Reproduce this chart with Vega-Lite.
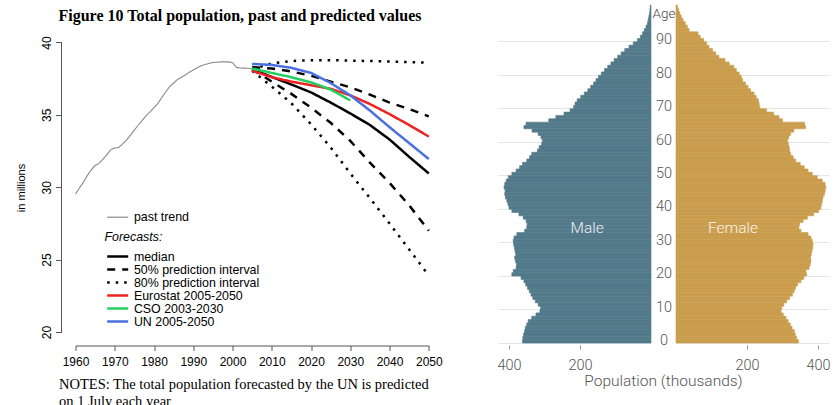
{
  "$schema": "https://vega.github.io/schema/vega-lite/v6.json",
  "padding": {"left": 14.5, "top": 4, "right": 0, "bottom": 0},
  "spacing": 53.5,
  "align": "none",
  "config": {
    "view": {"stroke": null},
    "font": "Liberation Sans"
  },
  "datasets": {
    "past": [
      {"year": 1960, "pop": 29.53, "kind": "past trend"},
      {"year": 1961, "pop": 29.95, "kind": "past trend"},
      {"year": 1962, "pop": 30.35, "kind": "past trend"},
      {"year": 1963, "pop": 30.8, "kind": "past trend"},
      {"year": 1964, "pop": 31.2, "kind": "past trend"},
      {"year": 1965, "pop": 31.5, "kind": "past trend"},
      {"year": 1966, "pop": 31.65, "kind": "past trend"},
      {"year": 1967, "pop": 31.95, "kind": "past trend"},
      {"year": 1968, "pop": 32.25, "kind": "past trend"},
      {"year": 1969, "pop": 32.6, "kind": "past trend"},
      {"year": 1970, "pop": 32.72, "kind": "past trend"},
      {"year": 1971, "pop": 32.75, "kind": "past trend"},
      {"year": 1972, "pop": 33.0, "kind": "past trend"},
      {"year": 1973, "pop": 33.25, "kind": "past trend"},
      {"year": 1974, "pop": 33.6, "kind": "past trend"},
      {"year": 1975, "pop": 33.95, "kind": "past trend"},
      {"year": 1976, "pop": 34.3, "kind": "past trend"},
      {"year": 1977, "pop": 34.62, "kind": "past trend"},
      {"year": 1978, "pop": 34.95, "kind": "past trend"},
      {"year": 1979, "pop": 35.2, "kind": "past trend"},
      {"year": 1980, "pop": 35.5, "kind": "past trend"},
      {"year": 1981, "pop": 35.8, "kind": "past trend"},
      {"year": 1982, "pop": 36.2, "kind": "past trend"},
      {"year": 1983, "pop": 36.6, "kind": "past trend"},
      {"year": 1984, "pop": 36.95, "kind": "past trend"},
      {"year": 1985, "pop": 37.2, "kind": "past trend"},
      {"year": 1986, "pop": 37.45, "kind": "past trend"},
      {"year": 1987, "pop": 37.6, "kind": "past trend"},
      {"year": 1988, "pop": 37.75, "kind": "past trend"},
      {"year": 1989, "pop": 37.95, "kind": "past trend"},
      {"year": 1990, "pop": 38.1, "kind": "past trend"},
      {"year": 1991, "pop": 38.25, "kind": "past trend"},
      {"year": 1992, "pop": 38.4, "kind": "past trend"},
      {"year": 1993, "pop": 38.48, "kind": "past trend"},
      {"year": 1994, "pop": 38.55, "kind": "past trend"},
      {"year": 1995, "pop": 38.62, "kind": "past trend"},
      {"year": 1996, "pop": 38.64, "kind": "past trend"},
      {"year": 1997, "pop": 38.66, "kind": "past trend"},
      {"year": 1998, "pop": 38.66, "kind": "past trend"},
      {"year": 1999, "pop": 38.66, "kind": "past trend"},
      {"year": 2000, "pop": 38.6, "kind": "past trend"},
      {"year": 2001, "pop": 38.28, "kind": "past trend"},
      {"year": 2002, "pop": 38.24, "kind": "past trend"},
      {"year": 2003, "pop": 38.23, "kind": "past trend"},
      {"year": 2004, "pop": 38.22, "kind": "past trend"},
      {"year": 2005, "pop": 38.17, "kind": "past trend"}
    ],
    "forecast": [
      {"series": "median", "band": "mid", "year": 2005, "pop": 38.15},
      {"series": "median", "band": "mid", "year": 2010, "pop": 37.62},
      {"series": "median", "band": "mid", "year": 2015, "pop": 37.1},
      {"series": "median", "band": "mid", "year": 2020, "pop": 36.55},
      {"series": "median", "band": "mid", "year": 2025, "pop": 35.85},
      {"series": "median", "band": "mid", "year": 2030, "pop": 35.1},
      {"series": "median", "band": "mid", "year": 2035, "pop": 34.3},
      {"series": "median", "band": "mid", "year": 2040, "pop": 33.3},
      {"series": "median", "band": "mid", "year": 2045, "pop": 32.1},
      {"series": "median", "band": "mid", "year": 2050, "pop": 30.95},
      {"series": "50% prediction interval", "band": "upper", "year": 2005, "pop": 38.3},
      {"series": "50% prediction interval", "band": "upper", "year": 2010, "pop": 38.2},
      {"series": "50% prediction interval", "band": "upper", "year": 2015, "pop": 38.0},
      {"series": "50% prediction interval", "band": "upper", "year": 2020, "pop": 37.7},
      {"series": "50% prediction interval", "band": "upper", "year": 2025, "pop": 37.3},
      {"series": "50% prediction interval", "band": "upper", "year": 2030, "pop": 36.9},
      {"series": "50% prediction interval", "band": "upper", "year": 2035, "pop": 36.4},
      {"series": "50% prediction interval", "band": "upper", "year": 2040, "pop": 35.85},
      {"series": "50% prediction interval", "band": "upper", "year": 2045, "pop": 35.4},
      {"series": "50% prediction interval", "band": "upper", "year": 2050, "pop": 34.9},
      {"series": "50% prediction interval", "band": "lower", "year": 2005, "pop": 38.15},
      {"series": "50% prediction interval", "band": "lower", "year": 2010, "pop": 37.3},
      {"series": "50% prediction interval", "band": "lower", "year": 2015, "pop": 36.45},
      {"series": "50% prediction interval", "band": "lower", "year": 2020, "pop": 35.5},
      {"series": "50% prediction interval", "band": "lower", "year": 2025, "pop": 34.45},
      {"series": "50% prediction interval", "band": "lower", "year": 2030, "pop": 33.2},
      {"series": "50% prediction interval", "band": "lower", "year": 2035, "pop": 31.7},
      {"series": "50% prediction interval", "band": "lower", "year": 2040, "pop": 30.3},
      {"series": "50% prediction interval", "band": "lower", "year": 2045, "pop": 28.75},
      {"series": "50% prediction interval", "band": "lower", "year": 2050, "pop": 27.0},
      {"series": "80% prediction interval", "band": "upper", "year": 2005, "pop": 38.15},
      {"series": "80% prediction interval", "band": "upper", "year": 2010, "pop": 38.55},
      {"series": "80% prediction interval", "band": "upper", "year": 2015, "pop": 38.72},
      {"series": "80% prediction interval", "band": "upper", "year": 2020, "pop": 38.78},
      {"series": "80% prediction interval", "band": "upper", "year": 2025, "pop": 38.78},
      {"series": "80% prediction interval", "band": "upper", "year": 2030, "pop": 38.75},
      {"series": "80% prediction interval", "band": "upper", "year": 2035, "pop": 38.72},
      {"series": "80% prediction interval", "band": "upper", "year": 2040, "pop": 38.68},
      {"series": "80% prediction interval", "band": "upper", "year": 2045, "pop": 38.64},
      {"series": "80% prediction interval", "band": "upper", "year": 2050, "pop": 38.6},
      {"series": "80% prediction interval", "band": "lower", "year": 2005, "pop": 38.05},
      {"series": "80% prediction interval", "band": "lower", "year": 2010, "pop": 36.95},
      {"series": "80% prediction interval", "band": "lower", "year": 2015, "pop": 35.8},
      {"series": "80% prediction interval", "band": "lower", "year": 2020, "pop": 34.35},
      {"series": "80% prediction interval", "band": "lower", "year": 2025, "pop": 32.75},
      {"series": "80% prediction interval", "band": "lower", "year": 2030, "pop": 30.95},
      {"series": "80% prediction interval", "band": "lower", "year": 2035, "pop": 29.25},
      {"series": "80% prediction interval", "band": "lower", "year": 2040, "pop": 27.5},
      {"series": "80% prediction interval", "band": "lower", "year": 2045, "pop": 25.7},
      {"series": "80% prediction interval", "band": "lower", "year": 2050, "pop": 23.9},
      {"series": "Eurostat 2005-2050", "band": "mid", "year": 2005, "pop": 38.05},
      {"series": "Eurostat 2005-2050", "band": "mid", "year": 2010, "pop": 37.6},
      {"series": "Eurostat 2005-2050", "band": "mid", "year": 2015, "pop": 37.3},
      {"series": "Eurostat 2005-2050", "band": "mid", "year": 2020, "pop": 37.05},
      {"series": "Eurostat 2005-2050", "band": "mid", "year": 2025, "pop": 36.8},
      {"series": "Eurostat 2005-2050", "band": "mid", "year": 2030, "pop": 36.35},
      {"series": "Eurostat 2005-2050", "band": "mid", "year": 2035, "pop": 35.75},
      {"series": "Eurostat 2005-2050", "band": "mid", "year": 2040, "pop": 35.05},
      {"series": "Eurostat 2005-2050", "band": "mid", "year": 2045, "pop": 34.3},
      {"series": "Eurostat 2005-2050", "band": "mid", "year": 2050, "pop": 33.5},
      {"series": "CSO 2003-2030", "band": "mid", "year": 2005, "pop": 38.2},
      {"series": "CSO 2003-2030", "band": "mid", "year": 2010, "pop": 37.9},
      {"series": "CSO 2003-2030", "band": "mid", "year": 2015, "pop": 37.6},
      {"series": "CSO 2003-2030", "band": "mid", "year": 2020, "pop": 37.25},
      {"series": "CSO 2003-2030", "band": "mid", "year": 2025, "pop": 36.75},
      {"series": "CSO 2003-2030", "band": "mid", "year": 2030, "pop": 36.0},
      {"series": "UN 2005-2050", "band": "mid", "year": 2005, "pop": 38.52},
      {"series": "UN 2005-2050", "band": "mid", "year": 2010, "pop": 38.45},
      {"series": "UN 2005-2050", "band": "mid", "year": 2015, "pop": 38.25},
      {"series": "UN 2005-2050", "band": "mid", "year": 2020, "pop": 37.9},
      {"series": "UN 2005-2050", "band": "mid", "year": 2025, "pop": 37.2},
      {"series": "UN 2005-2050", "band": "mid", "year": 2030, "pop": 36.35},
      {"series": "UN 2005-2050", "band": "mid", "year": 2035, "pop": 35.3},
      {"series": "UN 2005-2050", "band": "mid", "year": 2040, "pop": 34.15},
      {"series": "UN 2005-2050", "band": "mid", "year": 2045, "pop": 33.05},
      {"series": "UN 2005-2050", "band": "mid", "year": 2050, "pop": 31.95}
    ],
    "pyramid": [
      {"age":0,"sex":"Male","pop":362},{"age":1,"sex":"Male","pop":361},{"age":2,"sex":"Male","pop":359},{"age":3,"sex":"Male","pop":356},{"age":4,"sex":"Male","pop":354},
      {"age":5,"sex":"Male","pop":350},{"age":6,"sex":"Male","pop":346},{"age":7,"sex":"Male","pop":336},{"age":8,"sex":"Male","pop":324},{"age":9,"sex":"Male","pop":313},
      {"age":10,"sex":"Male","pop":311},{"age":11,"sex":"Male","pop":318},{"age":12,"sex":"Male","pop":326},{"age":13,"sex":"Male","pop":333},{"age":14,"sex":"Male","pop":338},
      {"age":15,"sex":"Male","pop":343},{"age":16,"sex":"Male","pop":348},{"age":17,"sex":"Male","pop":353},{"age":18,"sex":"Male","pop":358},{"age":19,"sex":"Male","pop":366},
      {"age":20,"sex":"Male","pop":392},{"age":21,"sex":"Male","pop":388},{"age":22,"sex":"Male","pop":380},{"age":23,"sex":"Male","pop":379},{"age":24,"sex":"Male","pop":382},
      {"age":25,"sex":"Male","pop":384},{"age":26,"sex":"Male","pop":381},{"age":27,"sex":"Male","pop":383},{"age":28,"sex":"Male","pop":385},{"age":29,"sex":"Male","pop":387},
      {"age":30,"sex":"Male","pop":388},{"age":31,"sex":"Male","pop":386},{"age":32,"sex":"Male","pop":378},{"age":33,"sex":"Male","pop":356},{"age":34,"sex":"Male","pop":350},
      {"age":35,"sex":"Male","pop":349},{"age":36,"sex":"Male","pop":352},{"age":37,"sex":"Male","pop":360},{"age":38,"sex":"Male","pop":372},{"age":39,"sex":"Male","pop":392},
      {"age":40,"sex":"Male","pop":400},{"age":41,"sex":"Male","pop":403},{"age":42,"sex":"Male","pop":406},{"age":43,"sex":"Male","pop":410},{"age":44,"sex":"Male","pop":412},
      {"age":45,"sex":"Male","pop":411},{"age":46,"sex":"Male","pop":414},{"age":47,"sex":"Male","pop":412},{"age":48,"sex":"Male","pop":408},{"age":49,"sex":"Male","pop":402},
      {"age":50,"sex":"Male","pop":392},{"age":51,"sex":"Male","pop":380},{"age":52,"sex":"Male","pop":370},{"age":53,"sex":"Male","pop":362},{"age":54,"sex":"Male","pop":350},
      {"age":55,"sex":"Male","pop":342},{"age":56,"sex":"Male","pop":336},{"age":57,"sex":"Male","pop":320},{"age":58,"sex":"Male","pop":315},{"age":59,"sex":"Male","pop":308},
      {"age":60,"sex":"Male","pop":306},{"age":61,"sex":"Male","pop":310},{"age":62,"sex":"Male","pop":318},{"age":63,"sex":"Male","pop":335},{"age":64,"sex":"Male","pop":358},
      {"age":65,"sex":"Male","pop":352},{"age":66,"sex":"Male","pop":288},{"age":67,"sex":"Male","pop":268},{"age":68,"sex":"Male","pop":245},{"age":69,"sex":"Male","pop":228},
      {"age":70,"sex":"Male","pop":218},{"age":71,"sex":"Male","pop":214},{"age":72,"sex":"Male","pop":208},{"age":73,"sex":"Male","pop":198},{"age":74,"sex":"Male","pop":188},
      {"age":75,"sex":"Male","pop":178},{"age":76,"sex":"Male","pop":170},{"age":77,"sex":"Male","pop":162},{"age":78,"sex":"Male","pop":155},{"age":79,"sex":"Male","pop":148},
      {"age":80,"sex":"Male","pop":140},{"age":81,"sex":"Male","pop":131},{"age":82,"sex":"Male","pop":122},{"age":83,"sex":"Male","pop":113},{"age":84,"sex":"Male","pop":104},
      {"age":85,"sex":"Male","pop":94},{"age":86,"sex":"Male","pop":84},{"age":87,"sex":"Male","pop":74},{"age":88,"sex":"Male","pop":62},{"age":89,"sex":"Male","pop":50},
      {"age":90,"sex":"Male","pop":38},{"age":91,"sex":"Male","pop":30},{"age":92,"sex":"Male","pop":24},{"age":93,"sex":"Male","pop":19},{"age":94,"sex":"Male","pop":14},
      {"age":95,"sex":"Male","pop":10},{"age":96,"sex":"Male","pop":8},{"age":97,"sex":"Male","pop":6},{"age":98,"sex":"Male","pop":4},{"age":99,"sex":"Male","pop":3},
      {"age":100,"sex":"Male","pop":2},
      {"age":0,"sex":"Female","pop":345},{"age":1,"sex":"Female","pop":340},{"age":2,"sex":"Female","pop":336},{"age":3,"sex":"Female","pop":333},{"age":4,"sex":"Female","pop":327},
      {"age":5,"sex":"Female","pop":322},{"age":6,"sex":"Female","pop":316},{"age":7,"sex":"Female","pop":310},{"age":8,"sex":"Female","pop":302},{"age":9,"sex":"Female","pop":296},
      {"age":10,"sex":"Female","pop":298},{"age":11,"sex":"Female","pop":304},{"age":12,"sex":"Female","pop":312},{"age":13,"sex":"Female","pop":320},{"age":14,"sex":"Female","pop":328},
      {"age":15,"sex":"Female","pop":333},{"age":16,"sex":"Female","pop":337},{"age":17,"sex":"Female","pop":342},{"age":18,"sex":"Female","pop":352},{"age":19,"sex":"Female","pop":360},
      {"age":20,"sex":"Female","pop":368},{"age":21,"sex":"Female","pop":366},{"age":22,"sex":"Female","pop":375},{"age":23,"sex":"Female","pop":378},{"age":24,"sex":"Female","pop":380},
      {"age":25,"sex":"Female","pop":379},{"age":26,"sex":"Female","pop":381},{"age":27,"sex":"Female","pop":383},{"age":28,"sex":"Female","pop":385},{"age":29,"sex":"Female","pop":386},
      {"age":30,"sex":"Female","pop":384},{"age":31,"sex":"Female","pop":380},{"age":32,"sex":"Female","pop":372},{"age":33,"sex":"Female","pop":352},{"age":34,"sex":"Female","pop":346},
      {"age":35,"sex":"Female","pop":348},{"age":36,"sex":"Female","pop":358},{"age":37,"sex":"Female","pop":370},{"age":38,"sex":"Female","pop":388},{"age":39,"sex":"Female","pop":402},
      {"age":40,"sex":"Female","pop":408},{"age":41,"sex":"Female","pop":410},{"age":42,"sex":"Female","pop":412},{"age":43,"sex":"Female","pop":414},{"age":44,"sex":"Female","pop":418},
      {"age":45,"sex":"Female","pop":420},{"age":46,"sex":"Female","pop":422},{"age":47,"sex":"Female","pop":420},{"age":48,"sex":"Female","pop":412},{"age":49,"sex":"Female","pop":398},
      {"age":50,"sex":"Female","pop":384},{"age":51,"sex":"Female","pop":372},{"age":52,"sex":"Female","pop":361},{"age":53,"sex":"Female","pop":350},{"age":54,"sex":"Female","pop":337},
      {"age":55,"sex":"Female","pop":330},{"age":56,"sex":"Female","pop":323},{"age":57,"sex":"Female","pop":320},{"age":58,"sex":"Female","pop":319},{"age":59,"sex":"Female","pop":316},
      {"age":60,"sex":"Female","pop":314},{"age":61,"sex":"Female","pop":318},{"age":62,"sex":"Female","pop":323},{"age":63,"sex":"Female","pop":332},{"age":64,"sex":"Female","pop":365},
      {"age":65,"sex":"Female","pop":362},{"age":66,"sex":"Female","pop":300},{"age":67,"sex":"Female","pop":290},{"age":68,"sex":"Female","pop":275},{"age":69,"sex":"Female","pop":255},
      {"age":70,"sex":"Female","pop":236},{"age":71,"sex":"Female","pop":234},{"age":72,"sex":"Female","pop":232},{"age":73,"sex":"Female","pop":226},{"age":74,"sex":"Female","pop":220},
      {"age":75,"sex":"Female","pop":210},{"age":76,"sex":"Female","pop":203},{"age":77,"sex":"Female","pop":196},{"age":78,"sex":"Female","pop":188},{"age":79,"sex":"Female","pop":184},
      {"age":80,"sex":"Female","pop":178},{"age":81,"sex":"Female","pop":170},{"age":82,"sex":"Female","pop":163},{"age":83,"sex":"Female","pop":150},{"age":84,"sex":"Female","pop":138},
      {"age":85,"sex":"Female","pop":121},{"age":86,"sex":"Female","pop":112},{"age":87,"sex":"Female","pop":103},{"age":88,"sex":"Female","pop":93},{"age":89,"sex":"Female","pop":86},
      {"age":90,"sex":"Female","pop":78},{"age":91,"sex":"Female","pop":68},{"age":92,"sex":"Female","pop":62},{"age":93,"sex":"Female","pop":37},{"age":94,"sex":"Female","pop":32},
      {"age":95,"sex":"Female","pop":26},{"age":96,"sex":"Female","pop":20},{"age":97,"sex":"Female","pop":15},{"age":98,"sex":"Female","pop":11},{"age":99,"sex":"Female","pop":7},
      {"age":100,"sex":"Female","pop":4}
    ]
  },
  "hconcat": [
    {
      "width": 353.3,
      "height": 327,
      "title": {
        "text": "Figure 10 Total population, past and predicted values",
        "anchor": "start",
        "frame": "group",
        "dx": -17,
        "dy": 18.5,
        "offset": 0,
        "font": "Liberation Serif",
        "fontSize": 16,
        "fontWeight": "bold",
        "color": "#000000"
      },
      "layer": [
        {
          "data": {"name": "past"},
          "mark": {"type": "line", "color": "#8a8a8a", "strokeWidth": 1.1},
          "encoding": {
            "x": {
              "field": "year",
              "type": "quantitative",
              "scale": {"domain": [1960, 2050], "nice": false, "zero": false},
              "axis": {
                "values": [1960, 1970, 1980, 1990, 2000, 2010, 2020, 2030, 2040, 2050],
                "tickCount": 10,
                "format": "d",
                "offset": 13.5,
                "domain": true,
                "domainColor": "#555555",
                "grid": false,
                "tickSize": 5,
                "tickColor": "#555555",
                "labelFont": "Liberation Sans",
                "labelFontSize": 12,
                "labelColor": "#000000",
                "labelPadding": 6,
                "labelFlush": false,
                "labelOverlap": false,
                "title": ["NOTES: The total population forecasted by the UN is predicted", "on 1 July each year"],
                "titleFont": "Liberation Serif",
                "titleFontSize": 14.5,
                "titleFontWeight": "normal",
                "titleColor": "#000000",
                "titleAnchor": "start",
                "titleAlign": "left",
                "titleBaseline": "alphabetic",
                "titleLineHeight": 16.5,
                "titleX": -17,
                "titleY": 43
              }
            },
            "y": {
              "field": "pop",
              "type": "quantitative",
              "scale": {"domain": [20, 42.59], "nice": false, "zero": false},
              "axis": {
                "values": [20, 25, 30, 35, 40],
                "offset": 14,
                "domain": false,
                "grid": false,
                "tickSize": 6,
                "tickColor": "#555555",
                "labelAngle": -90,
                "labelAlign": "center",
                "labelBaseline": "alphabetic",
                "labelPadding": 5.5,
                "labelFont": "Liberation Sans",
                "labelFontSize": 12,
                "labelColor": "#000000",
                "labelOverlap": false,
                "title": "in millions",
                "titleFont": "Liberation Sans",
                "titleFontSize": 11,
                "titleFontWeight": "normal",
                "titleColor": "#000000",
                "titleAngle": -90,
                "titleAlign": "center",
                "titleBaseline": "middle",
                "titleX": -40.5,
                "titleY": 182.5
              }
            },
            "opacity": {
              "field": "kind",
              "type": "ordinal",
              "scale": {"range": [1]},
              "legend": {
                "orient": "none",
                "legendX": 29,
                "legendY": 206,
                "title": null,
                "symbolType": "M-1,0H5",
                "symbolSize": 49,
                "symbolStrokeColor": "#8a8a8a",
                "symbolStrokeWidth": 1.2,
                "labelFont": "Liberation Sans",
                "labelFontSize": 12.4,
                "labelColor": "#000000",
                "labelOffset": 17
              }
            }
          }
        },
        {
          "data": {"name": "forecast"},
          "mark": {"type": "line", "strokeCap": "butt"},
          "encoding": {
            "x": {"field": "year", "type": "quantitative"},
            "y": {"field": "pop", "type": "quantitative"},
            "detail": {"field": "band"},
            "color": {
              "field": "series",
              "type": "ordinal",
              "scale": {
                "domain": ["median", "50% prediction interval", "80% prediction interval", "Eurostat 2005-2050", "CSO 2003-2030", "UN 2005-2050"],
                "range": ["#000000", "#000000", "#000000", "#ee2222", "#22d060", "#4a6fe0"]
              },
              "legend": {
                "orient": "none",
                "legendX": 29,
                "legendY": 226,
                "title": "Forecasts:",
                "titleFont": "Liberation Sans",
                "titleFontSize": 12.4,
                "titleFontStyle": "italic",
                "titleFontWeight": "normal",
                "titleColor": "#000000",
                "titlePadding": 7,
                "symbolType": "M-1,0H5",
                "symbolSize": 49,
                "rowPadding": -0.5,
                "labelFont": "Liberation Sans",
                "labelFontSize": 12.4,
                "labelColor": "#000000",
                "labelOffset": 17
              }
            },
            "strokeDash": {
              "field": "series",
              "type": "ordinal",
              "scale": {
                "domain": ["median", "50% prediction interval", "80% prediction interval", "Eurostat 2005-2050", "CSO 2003-2030", "UN 2005-2050"],
                "range": [[1, 0], [8, 7], [2.5, 6], [1, 0], [1, 0], [1, 0]]
              }
            },
            "strokeWidth": {
              "field": "series",
              "type": "ordinal",
              "scale": {
                "domain": ["median", "50% prediction interval", "80% prediction interval", "Eurostat 2005-2050", "CSO 2003-2030", "UN 2005-2050"],
                "range": [2.5, 2.5, 2.5, 1.5, 1.5, 1.5]
              }
            }
          }
        },
        {
          "data": {"values": [{"from": 20, "to": 40}]},
          "mark": {"type": "rule", "color": "#555555", "strokeWidth": 1},
          "encoding": {
            "x": {"datum": 1956.434},
            "y": {"field": "from", "type": "quantitative"},
            "y2": {"field": "to"}
          }
        }
      ]
    },
    {
      "title": {
        "text": "Population (thousands)",
        "orient": "bottom",
        "anchor": "middle",
        "offset": 2,
        "font": "Roboto",
        "fontSize": 15.5,
        "fontWeight": 300,
        "color": "#555555"
      },
      "bounds": "flush",
      "spacing": 25,
      "hconcat": [
        {
          "width": 153,
          "height": 338,
          "layer": [
            {
              "data": {"name": "pyramid"},
              "transform": [{"filter": "datum.sex === 'Male'"}],
              "mark": {"type": "bar", "color": "#537a8a", "stroke": "#537a8a", "strokeWidth": 0.6},
              "encoding": {
                "y": {
                  "field": "age",
                  "type": "ordinal",
                  "scale": {
                    "domain": [100,99,98,97,96,95,94,93,92,91,90,89,88,87,86,85,84,83,82,81,80,79,78,77,76,75,74,73,72,71,70,69,68,67,66,65,64,63,62,61,60,59,58,57,56,55,54,53,52,51,50,49,48,47,46,45,44,43,42,41,40,39,38,37,36,35,34,33,32,31,30,29,28,27,26,25,24,23,22,21,20,19,18,17,16,15,14,13,12,11,10,9,8,7,6,5,4,3,2,1,0],
                    "paddingInner": 0,
                    "paddingOuter": 0
                  },
                  "axis": {
                    "values": [0, 10, 20, 30, 40, 50, 60, 70, 80, 90],
                    "bandPosition": 1,
                    "grid": true,
                    "gridColor": "#e4e4e4",
                    "gridWidth": 1.2,
                    "labels": false,
                    "ticks": false,
                    "domain": false,
                    "title": null
                  }
                },
                "x": {
                  "field": "pop",
                  "type": "quantitative",
                  "scale": {"domain": [0, 431], "reverse": true, "nice": false, "zero": true},
                  "axis": {
                    "values": [200, 400],
                    "grid": false,
                    "domain": false,
                    "offset": 2,
                    "tickSize": 4,
                    "tickColor": "#999999",
                    "labelFont": "Roboto",
                    "labelFontWeight": 300,
                    "labelFontSize": 14.5,
                    "labelColor": "#555555",
                    "labelPadding": 9,
                    "title": null
                  }
                }
              }
            },
            {
              "data": {"name": "pyramid"},
              "transform": [{"filter": "datum.sex === 'Male' && datum.age === 34"}],
              "mark": {"type": "text", "font": "Roboto", "fontWeight": 300, "fontSize": 15.5, "color": "#eef1f3"},
              "encoding": {
                "text": {"field": "sex"},
                "x": {"datum": 180},
                "y": {"field": "age", "type": "ordinal"}
              }
            }
          ]
        },
        {
          "width": 153,
          "height": 338,
          "layer": [
            {
              "data": {"name": "pyramid"},
              "transform": [{"filter": "datum.sex === 'Female'"}],
              "mark": {"type": "bar", "color": "#c99d4d", "stroke": "#c99d4d", "strokeWidth": 0.6},
              "encoding": {
                "y": {
                  "field": "age",
                  "type": "ordinal",
                  "scale": {
                    "domain": [100,99,98,97,96,95,94,93,92,91,90,89,88,87,86,85,84,83,82,81,80,79,78,77,76,75,74,73,72,71,70,69,68,67,66,65,64,63,62,61,60,59,58,57,56,55,54,53,52,51,50,49,48,47,46,45,44,43,42,41,40,39,38,37,36,35,34,33,32,31,30,29,28,27,26,25,24,23,22,21,20,19,18,17,16,15,14,13,12,11,10,9,8,7,6,5,4,3,2,1,0],
                    "paddingInner": 0,
                    "paddingOuter": 0
                  },
                  "axis": {
                    "orient": "left",
                    "values": [0, 10, 20, 30, 40, 50, 60, 70, 80, 90],
                    "bandPosition": 1,
                    "grid": true,
                    "gridColor": "#e4e4e4",
                    "gridWidth": 1.2,
                    "ticks": false,
                    "tickSize": 0,
                    "domain": false,
                    "labelAlign": "center",
                    "labelBaseline": "middle",
                    "labelPadding": 12.5,
                    "labelFont": "Roboto",
                    "labelFontWeight": 300,
                    "labelFontSize": 14.5,
                    "labelColor": "#555555",
                    "title": "Age",
                    "titleFont": "Roboto",
                    "titleFontWeight": 300,
                    "titleFontSize": 13.5,
                    "titleColor": "#444444",
                    "titleAngle": 0,
                    "titleAlign": "center",
                    "titleBaseline": "middle",
                    "titleX": -12.5,
                    "titleY": 8
                  }
                },
                "x": {
                  "field": "pop",
                  "type": "quantitative",
                  "scale": {"domain": [0, 431], "nice": false, "zero": true},
                  "axis": {
                    "values": [200, 400],
                    "grid": false,
                    "domain": false,
                    "offset": 2,
                    "tickSize": 4,
                    "tickColor": "#999999",
                    "labelFont": "Roboto",
                    "labelFontWeight": 300,
                    "labelFontSize": 14.5,
                    "labelColor": "#555555",
                    "labelPadding": 9,
                    "title": null
                  }
                }
              }
            },
            {
              "data": {"name": "pyramid"},
              "transform": [{"filter": "datum.sex === 'Female' && datum.age === 34"}],
              "mark": {"type": "text", "font": "Roboto", "fontWeight": 300, "fontSize": 15.5, "color": "#fbf5ea"},
              "encoding": {
                "text": {"field": "sex"},
                "x": {"datum": 160.6},
                "y": {"field": "age", "type": "ordinal"}
              }
            }
          ]
        }
      ]
    }
  ]
}
